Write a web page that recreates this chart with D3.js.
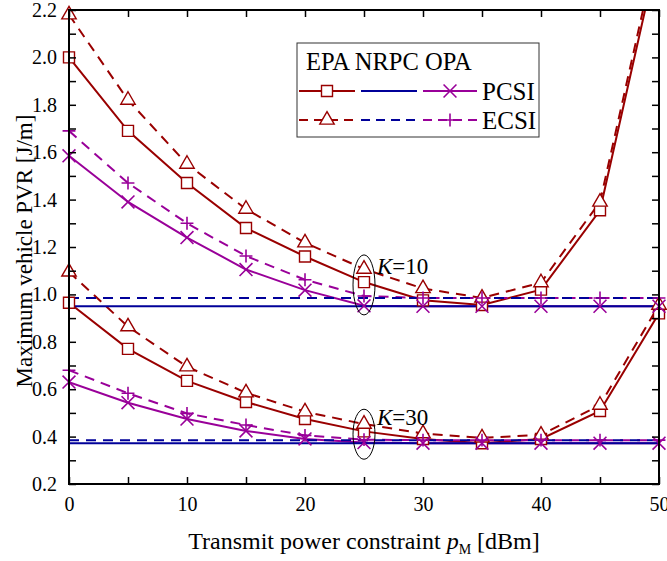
<!DOCTYPE html>
<html>
<head>
<meta charset="utf-8">
<script src="https://cdn.jsdelivr.net/npm/d3@7/dist/d3.min.js"></script>
<style>
  body { margin: 0; background: #fff; }
  text { font-family: "Liberation Serif", "Times New Roman", serif; }
</style>
</head>
<body>
<svg id="chart" width="667" height="561"></svg>
<script>
// transmit power constraint p_M [dBm]
const power = [0, 5, 10, 15, 20, 25, 30, 35, 40, 45, 50];

// K = 10
const epaPcsiK10 = [2.00, 1.69, 1.47, 1.28, 1.16, 1.052, 0.975, 0.955, 1.02, 1.355, 2.46];
const epaEcsiK10 = [2.18, 1.82, 1.55, 1.36, 1.218, 1.107, 1.025, 0.985, 1.05, 1.39, 2.50];
const opaPcsiK10 = [1.585, 1.39, 1.24, 1.105, 1.018, 0.952, 0.95, 0.95, 0.95, 0.95, 0.95];
const opaEcsiK10 = [1.69, 1.47, 1.30, 1.162, 1.062, 0.993, 0.985, 0.985, 0.985, 0.985, 0.985];
const nrpcPcsiK10 = [0.95, 0.95, 0.95, 0.95, 0.95, 0.95, 0.95, 0.95, 0.95, 0.95, 0.95];
const nrpcEcsiK10 = [0.985, 0.985, 0.985, 0.985, 0.985, 0.985, 0.985, 0.985, 0.985, 0.985, 0.985];

// K = 30
const epaPcsiK30 = [0.965, 0.77, 0.635, 0.546, 0.474, 0.422, 0.39, 0.372, 0.39, 0.508, 0.92];
const epaEcsiK30 = [1.095, 0.864, 0.695, 0.585, 0.505, 0.453, 0.413, 0.395, 0.407, 0.533, 0.955];
const opaPcsiK30 = [0.63, 0.543, 0.474, 0.424, 0.39, 0.375, 0.372, 0.372, 0.372, 0.372, 0.372];
const opaEcsiK30 = [0.68, 0.583, 0.498, 0.449, 0.405, 0.387, 0.385, 0.385, 0.385, 0.385, 0.385];
const nrpcPcsiK30 = [0.372, 0.372, 0.372, 0.372, 0.372, 0.372, 0.372, 0.372, 0.372, 0.372, 0.372];
const nrpcEcsiK30 = [0.385, 0.385, 0.385, 0.385, 0.385, 0.385, 0.385, 0.385, 0.385, 0.385, 0.385];

const xTicks = [0, 5, 10, 15, 20, 25, 30, 35, 40, 45, 50];
const yTicks = d3.range(2, 23).map(d => d / 10);

const red = "#990000", blue = "#000099", purple = "#990099";

const margin = { top: 10, right: 8, bottom: 77, left: 69 };
const width = 667 - margin.left - margin.right;
const height = 561 - margin.top - margin.bottom;

const svg = d3.select("#chart");
const g = svg.append("g").attr("transform", `translate(${margin.left},${margin.top})`);

const x = d3.scaleLinear().domain([0, 50]).range([0, width]);
const y = d3.scaleLinear().domain([0.2, 2.2]).range([height, 0]);

svg.append("defs").append("clipPath").attr("id", "clip")
  .append("rect").attr("width", width).attr("height", height);

// series: values, colour, dashed, marker
const series = [
  { v: epaPcsiK10, c: red, dash: false, m: "square" },
  { v: epaEcsiK10, c: red, dash: true, m: "triangle" },
  { v: epaPcsiK30, c: red, dash: false, m: "square" },
  { v: epaEcsiK30, c: red, dash: true, m: "triangle" },
  { v: opaPcsiK10, c: purple, dash: false, m: "times" },
  { v: opaEcsiK10, c: purple, dash: true, m: "plus" },
  { v: opaPcsiK30, c: purple, dash: false, m: "times" },
  { v: opaEcsiK30, c: purple, dash: true, m: "plus" },
  { v: nrpcPcsiK10, c: blue, dash: false, m: null },
  { v: nrpcEcsiK10, c: blue, dash: true, m: null },
  { v: nrpcPcsiK30, c: blue, dash: false, m: null },
  { v: nrpcEcsiK30, c: blue, dash: true, m: null }
];

const symbols = {
  square: d3.symbol().type(d3.symbolSquare).size(121),
  triangle: d3.symbol().type(d3.symbolTriangle).size(90),
  times: d3.symbol().type(d3.symbolTimes).size(110),
  plus: d3.symbol().type(d3.symbolPlus).size(56)
};

const line = d3.line().x((d, i) => x(power[i])).y(d => y(d));

const plot = g.append("g").attr("clip-path", "url(#clip)");

function drawMarker(sel, m, c) {
  sel.attr("d", symbols[m]())
    .attr("fill", (m === "square" || m === "triangle") ? "#fff" : "none")
    .attr("stroke", c)
    .attr("stroke-width", m === "times" || m === "plus" ? 1.6 : 1.4);
}

series.forEach(s => {
  plot.append("path")
    .datum(s.v)
    .attr("d", line)
    .attr("fill", "none")
    .attr("stroke", s.c)
    .attr("stroke-width", 2)
    .attr("stroke-dasharray", s.dash ? "10,7" : null);
});

series.filter(s => s.m).forEach(s => {
  g.append("g").selectAll("path")
    .data(s.v.map((v, i) => [power[i], v]).filter(d => d[1] <= 2.2))
    .join("path")
    .attr("transform", d => `translate(${x(d[0])},${y(d[1])})`)
    .call(sel => drawMarker(sel, s.m, s.c));
});

// axes with inward ticks
const tickFont = sel => sel.selectAll("text")
  .attr("font-family", "'Liberation Serif', 'Times New Roman', serif")
  .attr("font-size", 20).attr("fill", "#000");

g.append("g").attr("transform", `translate(0,${height})`)
  .call(d3.axisBottom(x).tickValues(xTicks).tickSize(-7).tickPadding(13)
    .tickFormat(d => d % 10 === 0 ? d : ""))
  .call(tickFont);
g.append("g")
  .call(d3.axisLeft(y).tickValues(yTicks).tickSize(-7).tickPadding(12)
    .tickFormat(d => Math.round(d * 10) % 2 === 0 ? d3.format(".1f")(d) : ""))
  .call(tickFont);
g.append("g")
  .call(d3.axisTop(x).tickValues(xTicks).tickSize(-7).tickFormat(""));
g.append("g").attr("transform", `translate(${width},0)`)
  .call(d3.axisRight(y).tickValues(yTicks).tickSize(-7).tickFormat(""));

g.selectAll(".domain").remove();
g.selectAll(".tick line").attr("stroke", "#000").attr("stroke-width", 1.5);
g.append("rect").attr("width", width).attr("height", height)
  .attr("fill", "none").attr("stroke", "#000").attr("stroke-width", 2);

// axis titles
const xt = svg.append("text")
  .attr("x", margin.left + width / 2).attr("y", 549)
  .attr("text-anchor", "middle").attr("font-size", 24);
xt.append("tspan").text("Transmit power constraint  ");
xt.append("tspan").attr("font-style", "italic").text("p");
xt.append("tspan").attr("font-size", 14).attr("dy", 5).text("M");
xt.append("tspan").attr("dy", -5).text(" [dBm]");

svg.append("text")
  .attr("transform", `translate(24,${margin.top + height / 2 + 4}) rotate(-90)`)
  .attr("text-anchor", "middle").attr("dy", "0.35em").attr("font-size", 23)
  .text("Maximum vehicle PVR [J/m]");

// K annotations
const notes = [
  { k: "10", cy: 1.04, ry: 30, ty: 1.086 },
  { k: "30", cy: 0.41, ry: 25, ty: 0.449 }
];
notes.forEach(n => {
  g.append("ellipse")
    .attr("cx", x(25)).attr("cy", y(n.cy)).attr("rx", 11).attr("ry", n.ry)
    .attr("fill", "none").attr("stroke", "#000").attr("stroke-width", 1);
  const t = g.append("text").attr("x", x(25) + 13).attr("y", y(n.ty))
    .attr("font-size", 23);
  t.append("tspan").attr("font-style", "italic").text("K");
  t.append("tspan").text("=" + n.k);
});

// legend
const lg = svg.append("g").attr("transform", "translate(297,43)");
lg.append("rect").attr("width", 242).attr("height", 94)
  .attr("fill", "#fff").attr("stroke", "#333").attr("stroke-width", 1);
lg.append("text").attr("x", 9).attr("y", 27).attr("font-size", 24.5).text("EPA NRPC OPA");

const legendRows = [
  { label: "PCSI", dash: false, marks: ["square", null, "times"], y: 48 },
  { label: "ECSI", dash: true, marks: ["triangle", null, "plus"], y: 77 }
];
const segs = [[2, 58], [64, 120], [126, 180]];
const segColors = [red, blue, purple];
legendRows.forEach(r => {
  segs.forEach((s, i) => {
    lg.append("line").attr("x1", s[0]).attr("x2", s[1]).attr("y1", r.y).attr("y2", r.y)
      .attr("stroke", segColors[i]).attr("stroke-width", 2)
      .attr("stroke-dasharray", r.dash ? "9,6" : null);
    if (r.marks[i]) {
      lg.append("path").attr("transform", `translate(${(s[0] + s[1]) / 2},${r.y})`)
        .call(sel => drawMarker(sel, r.marks[i], segColors[i]));
    }
  });
  lg.append("text").attr("x", 185).attr("y", r.y + 9).attr("font-size", 25).text(r.label);
});
</script>
</body>
</html>
